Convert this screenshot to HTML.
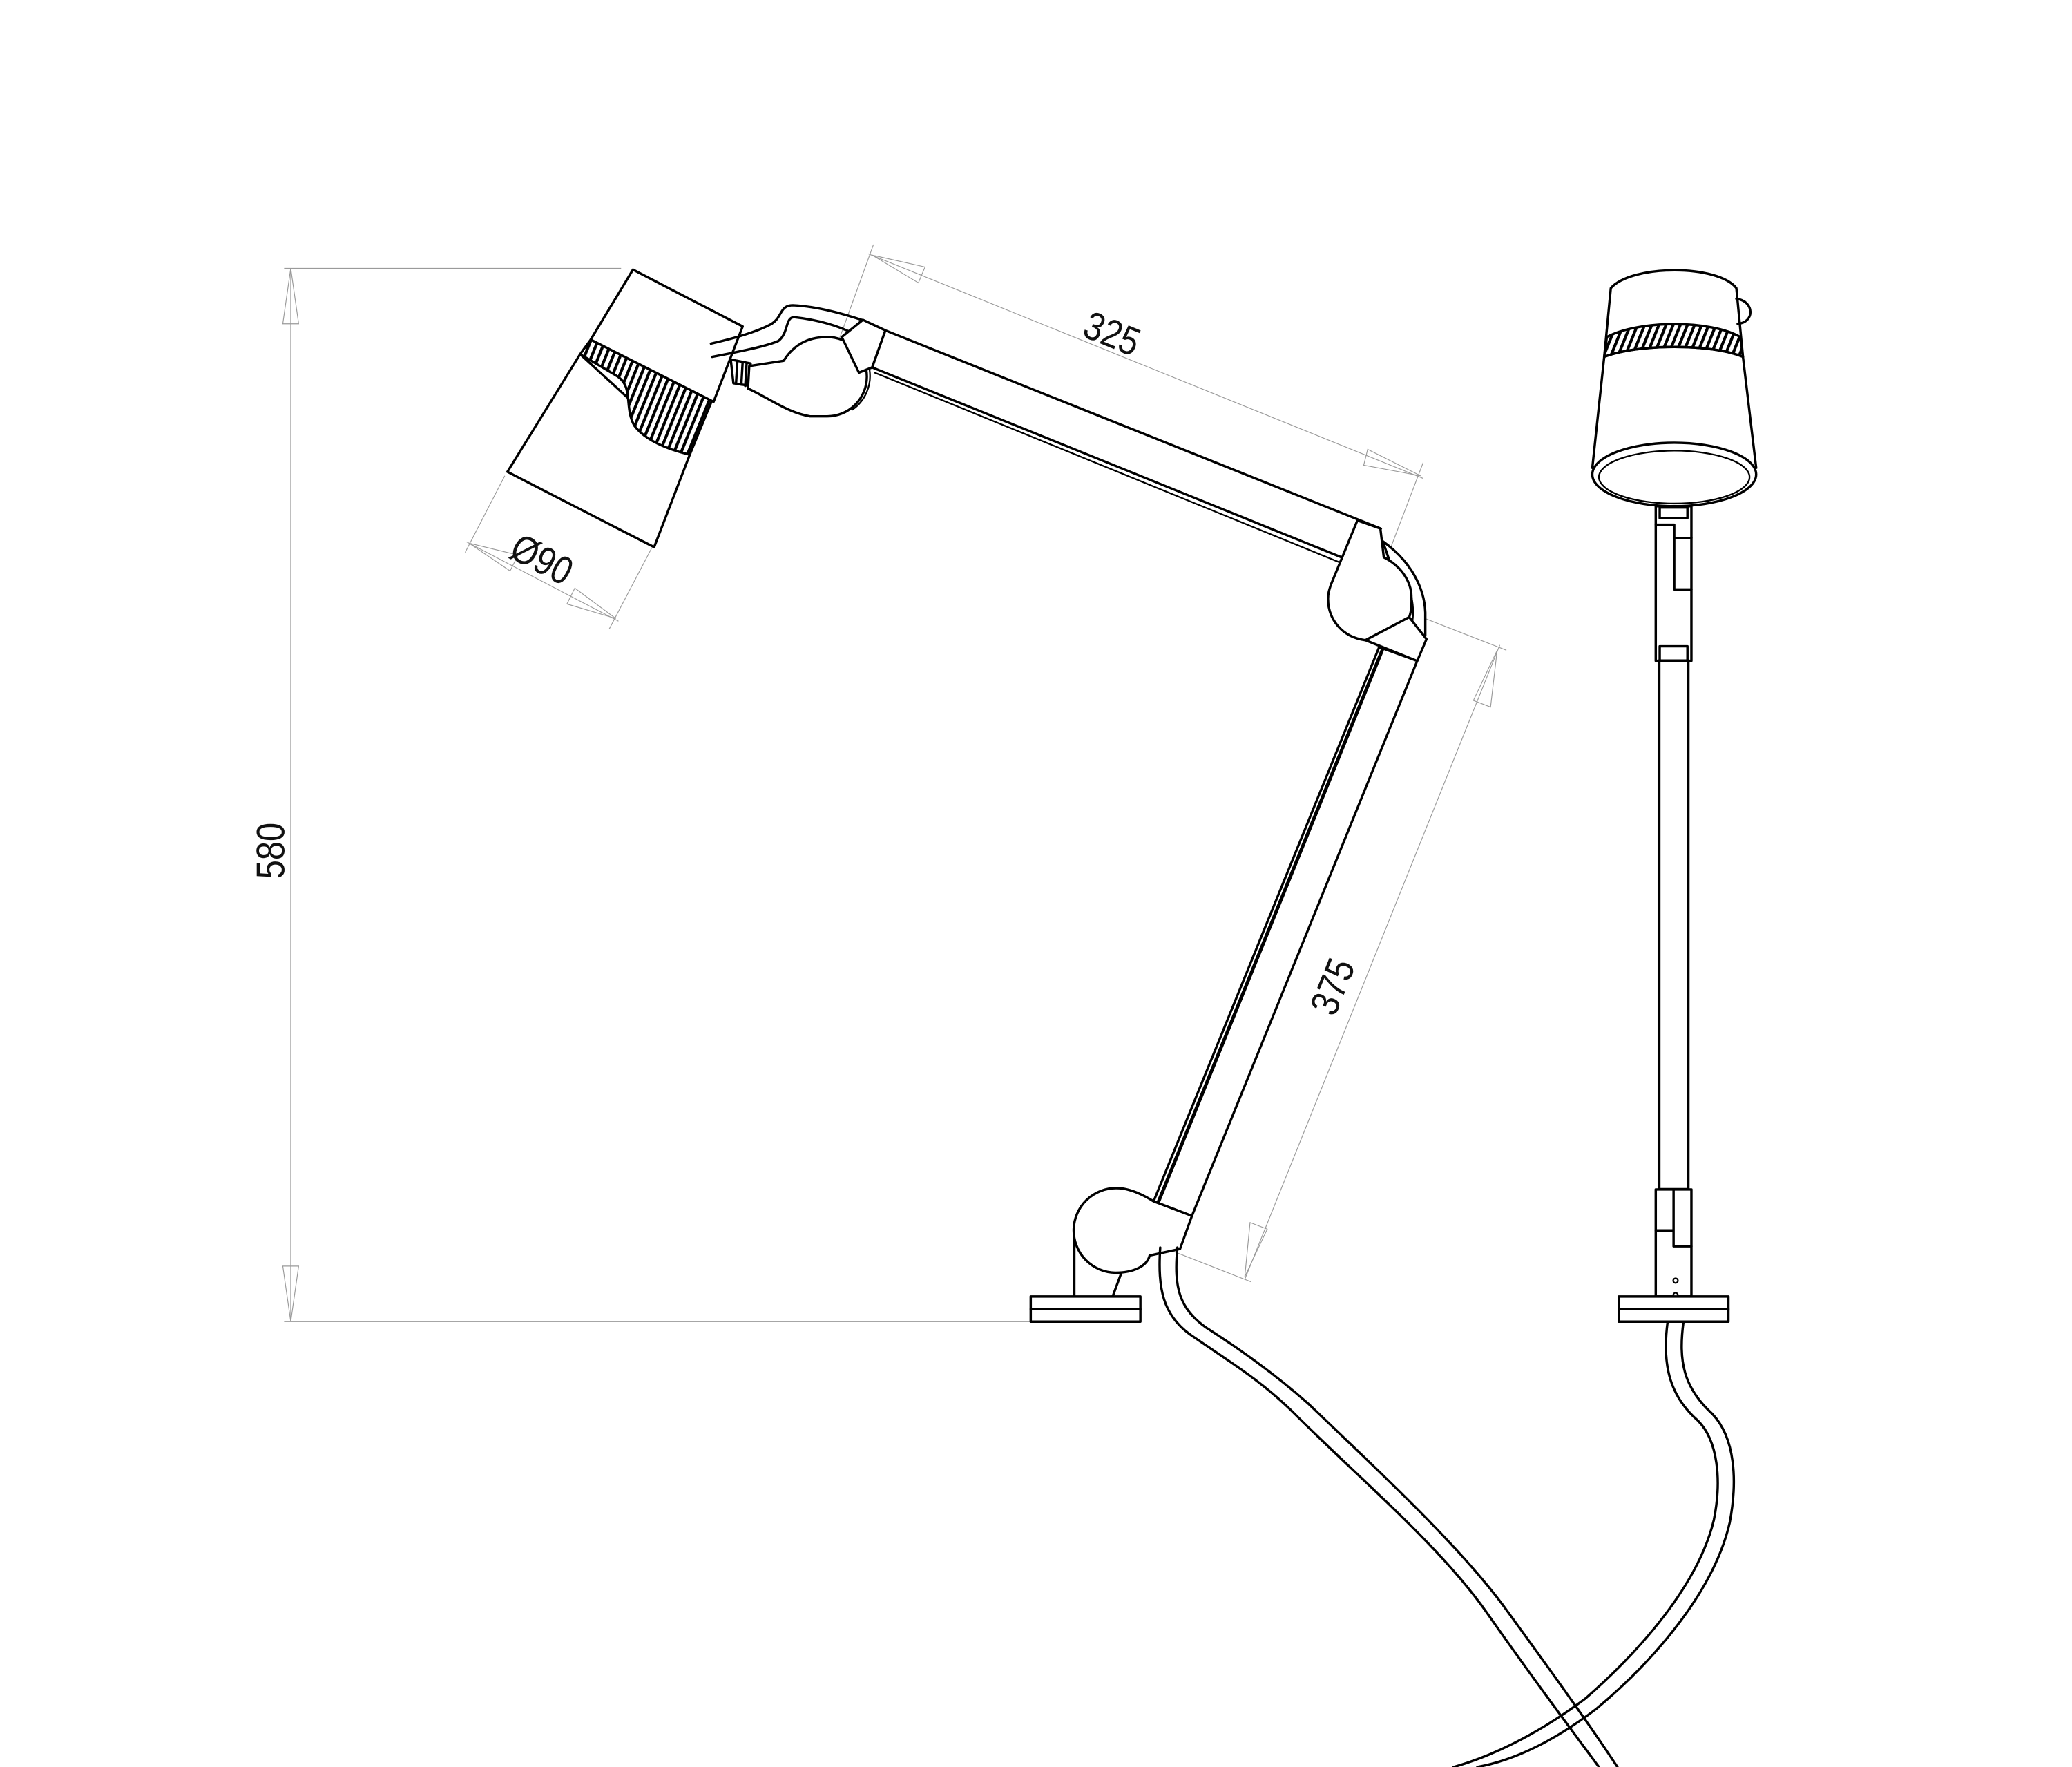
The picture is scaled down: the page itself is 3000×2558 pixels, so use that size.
<!DOCTYPE html>
<html><head><meta charset="utf-8"><style>
html,body{margin:0;padding:0;background:#fff}
svg{display:block}
text{font-family:"Liberation Sans",sans-serif;fill:#111}
</style></head><body>
<svg width="3000" height="2558" viewBox="0 0 1568 1337" xmlns="http://www.w3.org/2000/svg">
<defs>
<pattern id="rib" patternUnits="userSpaceOnUse" width="5" height="5" patternTransform="rotate(22)">
<rect width="5" height="5" fill="#fff"/><rect x="0" y="0" width="2.2" height="5" fill="#000"/>
</pattern>
</defs>
<rect width="1568" height="1337" fill="#fff"/>

<g stroke="#9a9a9a" stroke-width="0.6" fill="none">
<line x1="215" y1="203" x2="470" y2="203"/>
<line x1="215" y1="1000" x2="780" y2="1000"/>
<line x1="220" y1="203" x2="220" y2="1000"/>
<path d="M220,203 L214,245 L226,245 Z"/>
<path d="M220,1000 L214,958 L226,958 Z"/>
<line x1="627" y1="279" x2="661" y2="185"/>
<line x1="1040" y1="447" x2="1077" y2="350"/>
<line x1="657" y1="192" x2="1077" y2="362"/>
<path d="M660,193 L700,202 L695,214 Z"/>
<path d="M1075,360 L1035,340 L1032,352 Z"/>
<line x1="1040" y1="453" x2="1140" y2="492"/>
<line x1="845" y1="930" x2="947" y2="970"/>
<line x1="1135" y1="488" x2="942" y2="968"/>
<path d="M1133,492 L1115,530 L1128,535 Z"/>
<path d="M942,966 L946,925 L959,930 Z"/>
<line x1="382" y1="360" x2="352" y2="418"/>
<line x1="493" y1="415" x2="461" y2="476"/>
<line x1="353" y1="410" x2="468" y2="470"/>
<path d="M355,411 L392,420 L386,432 Z"/>
<path d="M466,468 L429,457 L435,445 Z"/>
</g>

<text x="0" y="0" font-size="30" transform="translate(215,665) rotate(-90) scale(0.85,1)">580</text>
<text x="0" y="0" font-size="30" transform="translate(818,254) rotate(22) scale(0.85,1)">325</text>
<text x="0" y="0" font-size="30" transform="translate(1010,770) rotate(-68) scale(0.85,1)">375</text>
<text x="0" y="0" font-size="30" transform="translate(384,421) rotate(28) scale(0.85,1)">Ø90</text>

<g stroke="#000" stroke-width="1.8" fill="#fff" stroke-linejoin="round" stroke-linecap="round">
<path d="M439,268 L384,357 L495,414 L522,344 Z"/>
<path d="M447,257 L540,300 L522,344 C505,340 488,333 480,322 C472,308 480,292 466,284 L439,268 Z" fill="url(#rib)"/>
<path d="M479,204 L562,247 L540,304 L447,257 Z"/>

<path d="M538,260 C560,255 575,250 584,245 C592,240 590,231 600,231 C620,232 640,238 655,243" fill="none"/>
<path d="M539,270 C560,266 580,262 589,258 C597,252 594,240 601,240 C620,242 635,247 645,252" fill="none"/>
<path d="M553,272 L568,275 L568,292 L555,290 Z"/>
<line x1="558" y1="273" x2="557" y2="290"/><line x1="562" y1="274" x2="561" y2="291"/><line x1="565" y1="275" x2="564" y2="292"/>
<path d="M567,277 L593,273 C600,262 610,255 626,255 A30,30 0 0 1 626,315 L613,315 C595,312 580,300 566,294 Z"/>
<path d="M637,255 A31,31 0 0 1 645,310" fill="none" stroke-width="1.2"/>

<!-- upper arm -->
<path d="M670,250 L1045,400 L1016,422 L660,278 Z"/>
<line x1="662" y1="282" x2="1015" y2="426" stroke-width="1.2"/>
<path d="M637,255 L653,242 L670,250 L660,278 L650,282 Z"/>

<!-- elbow joint -->
<path d="M1046.4,409.5 C1068,425 1078,445 1078.6,463.5 L1078.6,481 L1070,478 Z"/>
<path d="M1027.2,393.8 L1044.6,399.9 L1047.2,421.7 C1060,428 1068,440 1068.1,451.3 C1068.5,458 1068,463 1066.4,467 L1033.3,484.4 C1015,482 1005,468 1005,453 C1005,449 1006,446 1007.1,442.6 Z"/>
<path d="M1068.1,451.3 C1070,460 1070,470 1067,476" fill="none" stroke-width="1.2"/>
<!-- lower arm -->
<path d="M1043.7,489.6 L1072.5,500 L902,920 L873,909 Z"/>
<line x1="1046" y1="492" x2="876" y2="911" stroke-width="2.6"/>
<path d="M1033.3,484.4 L1066.4,467 L1079.5,483.6 L1072.5,500.1 Z"/>

<!-- base joint -->
<line x1="813" y1="932" x2="813" y2="981"/>
<line x1="849" y1="962" x2="842" y2="981"/>
<path d="M845,899 C855,899 865,904 873,909 L902,920 L893,945 L870,950 C868,958 858,963 844,963 A32,32 0 0 1 845,899 Z"/>
<rect x="780" y="981" width="83" height="9.5"/>
<rect x="780" y="990.5" width="83" height="9.5"/>

<g fill="none" stroke-width="1.8">
<path d="M878,944 C876,975 880,995 901,1010 C930,1030 955,1045 980,1070 C1030,1120 1090,1170 1125,1220 C1160,1270 1190,1310 1210,1337"/>
<path d="M891,944 C888,975 893,990 912,1004 C940,1022 965,1040 990,1062 C1040,1110 1100,1165 1137,1214 C1172,1262 1203,1305 1224,1337"/>
<path d="M1262,1000 C1258,1030 1262,1055 1285,1075 C1300,1090 1303,1120 1297,1150 C1285,1200 1240,1250 1200,1285 C1160,1315 1125,1330 1100,1337"/>
<path d="M1274,1000 C1270,1030 1274,1050 1296,1070 C1313,1088 1315,1120 1309,1152 C1297,1205 1250,1258 1208,1293 C1170,1322 1140,1333 1118,1337"/>
</g>

<path d="M1219,218 C1235,200 1300,200 1314,218 L1319,270 L1329,354 L1205,354 L1214,270 Z"/>
<path d="M1314,226 C1328,228 1328,244 1315,245" fill="none"/>
<path d="M1216,255 C1240,242 1295,242 1317,255 L1319,270 C1295,260 1240,260 1214,270 Z" fill="url(#rib)"/>
<path d="M1214,270 C1240,260 1295,260 1319,270" fill="none"/>
<ellipse cx="1267" cy="359" rx="62" ry="24"/>
<ellipse cx="1267" cy="361" rx="57" ry="20" stroke-width="1.2"/>
<rect x="1253" y="383" width="27" height="117"/>
<rect x="1256" y="384" width="21" height="8"/>
<path d="M1253,397 L1267,397 L1267,446 L1280,446" fill="none"/>
<line x1="1267" y1="407" x2="1280" y2="407"/>
<rect x="1256" y="489" width="21" height="11"/>
<rect x="1255.5" y="500" width="22" height="400" stroke-width="2.2"/>
<rect x="1253" y="900" width="27" height="81"/>
<path d="M1253,931 L1266.5,931 M1266.5,900 L1266.5,943 L1280,943" fill="none"/>
<circle cx="1268" cy="969" r="1.8" stroke-width="1.2"/>
<circle cx="1268" cy="980" r="1.8" stroke-width="1.2"/>
<rect x="1225" y="981" width="83" height="9.5"/>
<rect x="1225" y="990.5" width="83" height="9.5"/>
</g>
</svg>
</body></html>
